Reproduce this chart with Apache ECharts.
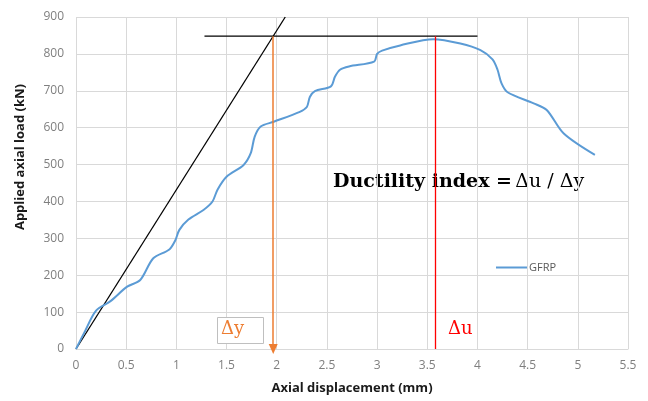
<!DOCTYPE html>
<html>
<head>
<meta charset="utf-8">
<script src="https://cdn.jsdelivr.net/npm/echarts@6/dist/echarts.min.js"></script>
<style>
  html, body { margin: 0; padding: 0; background: #fff; }
  #chart { width: 648px; height: 401px; }
</style>
</head>
<body>
<div id="chart"></div>
<script>
// Load–displacement curve of the GFRP specimen: [displacement (mm), load (kN)]
const gfrpCurve = [
  [0, 0], [0.08, 43], [0.2, 104], [0.34, 129], [0.51, 169], [0.64, 187],
  [0.77, 246], [0.93, 270], [0.99, 295], [1.03, 323], [1.12, 351], [1.27, 377],
  [1.36, 400], [1.41, 432], [1.50, 467], [1.67, 499], [1.74, 530], [1.78, 575],
  [1.84, 603], [1.97, 616], [2.23, 643], [2.30, 656], [2.33, 683], [2.38, 699],
  [2.54, 712], [2.58, 738], [2.63, 757], [2.72, 766], [2.97, 779], [3.00, 800],
  [3.05, 809], [3.23, 823], [3.56, 840], [3.83, 828], [4.03, 810], [4.15, 785],
  [4.20, 757], [4.24, 720], [4.30, 696], [4.56, 666], [4.69, 648], [4.86, 584],
  [5.17, 526]
];

// Construction lines for the yield / ultimate displacement definition
const initialStiffnessLine = [[0, 0], [2.085, 900]];
const peakLoadLine = [[1.28, 848], [4.0, 848]];
const yieldDisplacement = 1.965;   // Δy (mm)
const ultimateDisplacement = 3.575; // Δu (mm)
const peakLoad = 848;               // kN

const xTicks = { min: 0, max: 5.5, interval: 0.5 };
const yTicks = { min: 0, max: 900, interval: 100 };

const chart = echarts.init(document.getElementById('chart'));

const tickFont = { color: '#7f7f7f', fontSize: 12, fontFamily: 'Open Sans' };
const gridLine = { show: true, lineStyle: { color: '#d9d9d9', width: 1 } };

chart.setOption({
  animation: false,
  backgroundColor: '#ffffff',
  grid: { left: 76, right: 20, top: 17, bottom: 52, containLabel: false },
  xAxis: {
    type: 'value',
    min: xTicks.min, max: xTicks.max, interval: xTicks.interval,
    axisLine: { show: true, lineStyle: { color: '#d9d9d9' } },
    axisTick: { show: false },
    splitLine: gridLine,
    axisLabel: Object.assign({ margin: 11 }, tickFont),
    name: 'Axial displacement (mm)',
    nameLocation: 'middle',
    nameGap: 33,
    nameTextStyle: { color: '#1a1a1a', fontSize: 13, fontWeight: 'bold', fontFamily: 'Open Sans' }
  },
  yAxis: {
    type: 'value',
    min: yTicks.min, max: yTicks.max, interval: yTicks.interval,
    axisLine: { show: false },
    axisTick: { show: false },
    splitLine: gridLine,
    axisLabel: Object.assign({ margin: 12 }, tickFont)
  },
  legend: {
    left: 491, top: 257,
    icon: 'rect', itemWidth: 31, itemHeight: 2, itemGap: 2,
    textStyle: { color: '#595959', fontSize: 11, fontFamily: 'Open Sans', padding: [0, 0, 0, -3] },
    data: ['GFRP']
  },
  series: [
    {
      name: 'stiffness',
      type: 'line',
      data: initialStiffnessLine,
      showSymbol: false,
      silent: true,
      lineStyle: { color: '#000000', width: 1.3 },
      z: 3
    },
    {
      name: 'peak',
      type: 'line',
      data: peakLoadLine,
      showSymbol: false,
      silent: true,
      lineStyle: { color: '#000000', width: 1.3 },
      z: 3
    },
    {
      name: 'GFRP',
      type: 'line',
      data: gfrpCurve,
      smooth: 0.3,
      showSymbol: false,
      itemStyle: { color: '#5b9bd5' },
      lineStyle: { color: '#5b9bd5', width: 2 },
      z: 4,
      markLine: {
        silent: true,
        animation: false,
        label: { show: false },
        data: [
          [
            { coord: [yieldDisplacement, peakLoad], symbol: 'none',
              lineStyle: { color: '#ed7d31', width: 1.5, type: 'solid' } },
            { coord: [yieldDisplacement, 0], symbol: 'triangle', symbolSize: [9, 10], symbolRotate: 180,
              itemStyle: { color: '#ed7d31' },
              lineStyle: { color: '#ed7d31', width: 1.5, type: 'solid' } }
          ],
          [
            { coord: [ultimateDisplacement, peakLoad], symbol: 'none',
              lineStyle: { color: '#ff0000', width: 1.3, type: 'solid' } },
            { coord: [ultimateDisplacement, 0], symbol: 'none',
              lineStyle: { color: '#ff0000', width: 1.3, type: 'solid' } }
          ]
        ]
      }
    }
  ],
  graphic: [
    {
      type: 'text',
      left: 14, top: 84,
      rotation: Math.PI / 2,
      style: {
        text: 'Applied axial load (kN)',
        fill: '#1a1a1a',
        font: 'bold 13px "Open Sans"'
      }
    },
    {
      type: 'text',
      left: 333, top: 173,
      style: {
        rich: {
          b: { fontFamily: 'DejaVu Serif', fontWeight: 'bold', fontSize: 19, fill: '#000' },
          r: { fontFamily: 'DejaVu Serif', fontSize: 19, fill: '#000' }
        },
        text: '{b|Ductility index =} {r|Δu / Δy}'
      }
    },
    {
      type: 'rect',
      shape: { x: 217.5, y: 317.5, width: 46, height: 26 },
      style: { fill: '#ffffff', stroke: '#bfbfbf', lineWidth: 1 },
      z: 10
    },
    {
      type: 'text',
      left: 221, top: 320,
      style: { text: 'Δy', fill: '#ed7d31', font: '18px "DejaVu Serif"' },
      z: 11
    },
    {
      type: 'text',
      left: 448, top: 320,
      style: { text: 'Δu', fill: '#ff0000', font: '18px "DejaVu Serif"' },
      z: 11
    }
  ]
});
</script>
</body>
</html>
